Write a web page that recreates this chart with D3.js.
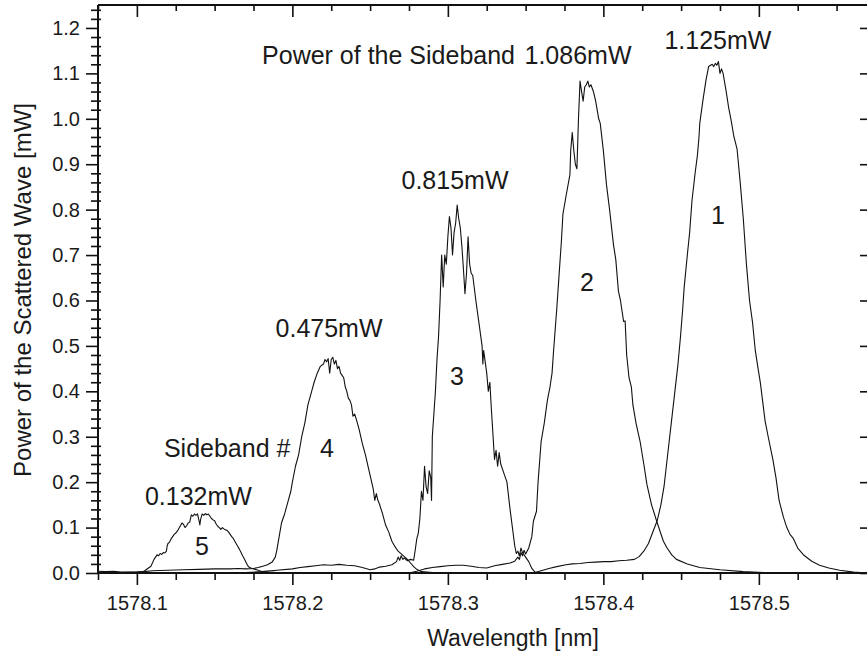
<!DOCTYPE html>
<html><head><meta charset="utf-8">
<script src="https://cdn.jsdelivr.net/npm/d3@7"></script>
<style>
body{margin:0;background:#fff}
text{font-family:"Liberation Sans",Arial,sans-serif;fill:#1a1a1a}
</style>
</head><body>
<svg id="c" width="867" height="655"></svg>
<script>
// ---- data: [wavelength nm, power mW] ----
const sideband5 = [[1578.075,0.004],[1578.08,0.003],[1578.085,0.004],[1578.09,0.002],[1578.095,0.002],[1578.1,0.002],[1578.104,0.003],[1578.1055,0.006],[1578.107,0.01],[1578.109,0.015],[1578.110,0.022],[1578.111,0.03],[1578.112,0.035],[1578.113,0.040],[1578.114,0.038],[1578.115,0.043],[1578.116,0.041],[1578.117,0.045],[1578.118,0.044],[1578.119,0.048],[1578.1195,0.06],[1578.12,0.065],[1578.121,0.068],[1578.122,0.075],[1578.123,0.08],[1578.124,0.085],[1578.125,0.088],[1578.126,0.092],[1578.127,0.098],[1578.128,0.104],[1578.129,0.11],[1578.130,0.107],[1578.131,0.1],[1578.132,0.104],[1578.133,0.11],[1578.134,0.112],[1578.135,0.128],[1578.136,0.125],[1578.137,0.13],[1578.138,0.127],[1578.139,0.13],[1578.140,0.115],[1578.1405,0.106],[1578.141,0.118],[1578.142,0.13],[1578.143,0.127],[1578.144,0.131],[1578.145,0.128],[1578.146,0.13],[1578.147,0.125],[1578.148,0.12],[1578.149,0.117],[1578.150,0.115],[1578.151,0.108],[1578.152,0.103],[1578.153,0.1],[1578.154,0.096],[1578.155,0.1],[1578.156,0.097],[1578.157,0.095],[1578.158,0.094],[1578.159,0.09],[1578.160,0.085],[1578.161,0.08],[1578.162,0.076],[1578.163,0.07],[1578.164,0.064],[1578.165,0.058],[1578.166,0.052],[1578.167,0.045],[1578.168,0.038],[1578.169,0.032],[1578.170,0.025],[1578.171,0.018],[1578.172,0.013],[1578.174,0.01],[1578.177,0.007],[1578.18,0.004],[1578.185,0.002],[1578.19,0.001],[1578.2,0.0],[1578.3,0.0],[1578.57,0.0]];

const sideband4 = [[1578.075,0.001],[1578.09,0.001],[1578.1,0.002],[1578.105,0.003],[1578.11,0.005],[1578.12,0.006],[1578.13,0.007],[1578.14,0.008],[1578.15,0.009],[1578.16,0.009],[1578.165,0.01],[1578.17,0.009],[1578.175,0.01],[1578.178,0.012],[1578.181,0.015],[1578.184,0.018],[1578.187,0.024],[1578.189,0.035],[1578.19,0.05],[1578.191,0.07],[1578.192,0.09],[1578.193,0.11],[1578.195,0.13],[1578.197,0.155],[1578.199,0.18],[1578.2,0.2],[1578.202,0.235],[1578.204,0.26],[1578.206,0.3],[1578.208,0.33],[1578.21,0.37],[1578.212,0.395],[1578.214,0.42],[1578.216,0.44],[1578.218,0.455],[1578.22,0.46],[1578.221,0.47],[1578.222,0.465],[1578.223,0.472],[1578.224,0.44],[1578.225,0.47],[1578.226,0.475],[1578.227,0.46],[1578.228,0.468],[1578.229,0.45],[1578.23,0.455],[1578.231,0.44],[1578.232,0.435],[1578.233,0.43],[1578.234,0.41],[1578.235,0.4],[1578.236,0.385],[1578.237,0.38],[1578.238,0.37],[1578.239,0.345],[1578.24,0.35],[1578.241,0.34],[1578.243,0.315],[1578.245,0.285],[1578.247,0.26],[1578.249,0.23],[1578.251,0.2],[1578.252,0.185],[1578.253,0.16],[1578.254,0.175],[1578.255,0.16],[1578.256,0.152],[1578.258,0.13],[1578.26,0.105],[1578.262,0.09],[1578.264,0.07],[1578.266,0.058],[1578.268,0.048],[1578.27,0.042],[1578.272,0.036],[1578.274,0.03],[1578.276,0.022],[1578.278,0.014],[1578.28,0.008],[1578.283,0.003],[1578.29,0.001],[1578.57,0.0]];

const sideband3 = [[1578.075,0.0],[1578.17,0.001],[1578.18,0.003],[1578.19,0.006],[1578.2,0.009],[1578.205,0.012],[1578.21,0.014],[1578.215,0.016],[1578.22,0.018],[1578.225,0.017],[1578.23,0.019],[1578.235,0.017],[1578.24,0.016],[1578.245,0.012],[1578.25,0.007],[1578.253,0.009],[1578.256,0.013],[1578.26,0.015],[1578.264,0.018],[1578.267,0.025],[1578.268,0.035],[1578.269,0.028],[1578.27,0.038],[1578.271,0.03],[1578.272,0.033],[1578.274,0.027],[1578.276,0.03],[1578.278,0.028],[1578.279,0.05],[1578.28,0.075],[1578.281,0.088],[1578.282,0.12],[1578.283,0.18],[1578.284,0.16],[1578.285,0.235],[1578.286,0.19],[1578.287,0.175],[1578.288,0.225],[1578.289,0.21],[1578.2895,0.16],[1578.29,0.3],[1578.291,0.35],[1578.292,0.4],[1578.293,0.47],[1578.294,0.52],[1578.295,0.6],[1578.296,0.7],[1578.297,0.63],[1578.298,0.7],[1578.299,0.68],[1578.3,0.74],[1578.301,0.785],[1578.302,0.76],[1578.303,0.7],[1578.304,0.75],[1578.305,0.77],[1578.306,0.81],[1578.307,0.78],[1578.308,0.76],[1578.309,0.72],[1578.31,0.67],[1578.311,0.615],[1578.312,0.66],[1578.313,0.74],[1578.314,0.68],[1578.315,0.66],[1578.316,0.655],[1578.318,0.6],[1578.32,0.55],[1578.322,0.5],[1578.3225,0.46],[1578.323,0.49],[1578.325,0.44],[1578.326,0.4],[1578.327,0.42],[1578.328,0.36],[1578.33,0.25],[1578.331,0.27],[1578.332,0.235],[1578.333,0.265],[1578.334,0.24],[1578.336,0.22],[1578.338,0.2],[1578.34,0.14],[1578.342,0.087],[1578.343,0.06],[1578.344,0.043],[1578.345,0.048],[1578.346,0.038],[1578.347,0.055],[1578.348,0.045],[1578.35,0.035],[1578.352,0.025],[1578.354,0.01],[1578.356,0.002],[1578.36,0.0],[1578.57,0.0]];

const sideband2 = [[1578.075,0.0],[1578.275,0.0],[1578.28,0.004],[1578.285,0.009],[1578.29,0.012],[1578.295,0.014],[1578.3,0.016],[1578.305,0.017],[1578.31,0.017],[1578.315,0.015],[1578.32,0.012],[1578.325,0.011],[1578.33,0.016],[1578.335,0.019],[1578.34,0.022],[1578.343,0.026],[1578.345,0.035],[1578.346,0.03],[1578.347,0.045],[1578.348,0.038],[1578.349,0.05],[1578.35,0.042],[1578.352,0.055],[1578.354,0.08],[1578.355,0.114],[1578.357,0.136],[1578.358,0.2],[1578.36,0.29],[1578.362,0.33],[1578.364,0.38],[1578.3657,0.41],[1578.367,0.44],[1578.368,0.49],[1578.37,0.58],[1578.372,0.68],[1578.373,0.73],[1578.374,0.79],[1578.376,0.83],[1578.3785,0.877],[1578.379,0.93],[1578.38,0.97],[1578.381,0.93],[1578.382,0.9],[1578.383,0.89],[1578.384,1.0],[1578.385,1.083],[1578.386,1.06],[1578.387,1.039],[1578.388,1.07],[1578.389,1.075],[1578.39,1.083],[1578.391,1.07],[1578.392,1.075],[1578.3936,1.06],[1578.395,1.04],[1578.397,1.0],[1578.398,0.99],[1578.4,0.93],[1578.402,0.855],[1578.404,0.8],[1578.4065,0.723],[1578.408,0.69],[1578.4097,0.62],[1578.411,0.6],[1578.413,0.554],[1578.414,0.555],[1578.415,0.48],[1578.4165,0.43],[1578.418,0.41],[1578.419,0.37],[1578.421,0.33],[1578.4236,0.29],[1578.426,0.24],[1578.428,0.195],[1578.431,0.15],[1578.4343,0.114],[1578.4386,0.07],[1578.441,0.055],[1578.444,0.04],[1578.447,0.03],[1578.454,0.02],[1578.462,0.012],[1578.475,0.007],[1578.49,0.003],[1578.51,0.0],[1578.57,0.0]];

const sideband1 = [[1578.075,0.0],[1578.355,0.0],[1578.36,0.005],[1578.365,0.01],[1578.37,0.014],[1578.376,0.018],[1578.38,0.02],[1578.385,0.021],[1578.39,0.023],[1578.395,0.024],[1578.4,0.025],[1578.405,0.025],[1578.41,0.027],[1578.415,0.028],[1578.42,0.03],[1578.423,0.036],[1578.426,0.048],[1578.429,0.065],[1578.432,0.092],[1578.4346,0.115],[1578.437,0.15],[1578.439,0.19],[1578.441,0.25],[1578.444,0.34],[1578.446,0.4],[1578.448,0.46],[1578.4496,0.52],[1578.451,0.58],[1578.452,0.63],[1578.454,0.7],[1578.4555,0.75],[1578.457,0.82],[1578.459,0.88],[1578.4605,0.92],[1578.4615,0.96],[1578.462,0.99],[1578.464,1.04],[1578.466,1.085],[1578.4677,1.115],[1578.469,1.118],[1578.47,1.12],[1578.471,1.115],[1578.472,1.122],[1578.473,1.118],[1578.474,1.126],[1578.475,1.1],[1578.476,1.11],[1578.477,1.1],[1578.479,1.06],[1578.4806,1.024],[1578.482,1.0],[1578.484,0.96],[1578.486,0.933],[1578.488,0.86],[1578.49,0.78],[1578.492,0.68],[1578.494,0.6],[1578.496,0.55],[1578.4977,0.49],[1578.4995,0.45],[1578.501,0.418],[1578.504,0.335],[1578.506,0.3],[1578.509,0.25],[1578.511,0.21],[1578.513,0.16],[1578.5158,0.123],[1578.518,0.1],[1578.52,0.085],[1578.522,0.077],[1578.525,0.055],[1578.529,0.039],[1578.534,0.026],[1578.539,0.017],[1578.545,0.011],[1578.552,0.006],[1578.561,0.002],[1578.57,0.0]];

const seriesList = [sideband5, sideband4, sideband3, sideband2, sideband1];

// ---- axes ticks ----
const xMajorTicks = [1578.1,1578.2,1578.3,1578.4,1578.5];
const xMinorTicks = [1578.075,1578.125,1578.15,1578.175,1578.225,1578.25,1578.275,1578.325,1578.35,1578.375,1578.425,1578.45,1578.475,1578.525,1578.55];
const xTickLabels = ["1578.1","1578.2","1578.3","1578.4","1578.5"];
const yMajorTicks = [0,0.1,0.2,0.3,0.4,0.5,0.6,0.7,0.8,0.9,1.0,1.1,1.2];
const yTickLabels = ["0.0","0.1","0.2","0.3","0.4","0.5","0.6","0.7","0.8","0.9","1.0","1.1","1.2"];
const yMinorTicks = [0.02,0.04,0.06,0.08,0.12,0.14,0.16,0.18,0.22,0.24,0.26,0.28,0.32,0.34,0.36,0.38,0.42,0.44,0.46,0.48,0.52,0.54,0.56,0.58,0.62,0.64,0.66,0.68,0.72,0.74,0.76,0.78,0.82,0.84,0.86,0.88,0.92,0.94,0.96,0.98,1.02,1.04,1.06,1.08,1.12,1.14,1.16,1.18,1.22,1.24];

// ---- annotations: [text, wavelength, power, anchor] ----
const annotations = [
  ["Power of the Sideband",1578.1805,1.1207,"start"],
  ["1.086mW",1578.3837,1.1207,"middle"],
  ["1.125mW",1578.4737,1.1537,"middle"],
  ["0.815mW",1578.3046,0.8454,"middle"],
  ["0.475mW",1578.2236,0.5196,"middle"],
  ["Sideband #",1578.1174,0.2554,"start"],
  ["4",1578.2223,0.2554,"middle"],
  ["0.132mW",1578.1052,0.1497,"start"],
  ["5",1578.1419,0.0396,"middle"],
  ["3",1578.3059,0.4139,"middle"],
  ["2",1578.3895,0.6209,"middle"],
  ["1",1578.4737,0.7684,"middle"]
];

const svg = d3.select("#c");
const x = d3.scaleLinear().domain([1578.075,1578.57]).range([98,867.7]);
const y = d3.scaleLinear().domain([0,1.25]).range([573,5.25]);
const L=98,R=867,T=5,B=573;

svg.append("defs").append("clipPath").attr("id","clip")
  .append("rect").attr("x",L).attr("y",T).attr("width",R-L).attr("height",B-T+1);

// curves
const line = d3.line().x(d=>x(d[0])).y(d=>y(d[1]));
svg.append("g").attr("clip-path","url(#clip)")
  .selectAll("path").data(seriesList).join("path")
  .attr("d",line).attr("fill","none").attr("stroke","#111").attr("stroke-width",1.1)
  .attr("stroke-linejoin","round");

const axStyle = g => { g.selectAll("line").attr("stroke","#111").attr("stroke-width",1.6); g.select(".domain").remove(); };

// bottom axis
svg.append("g").attr("transform",`translate(0,${B})`)
  .call(d3.axisBottom(x).tickValues(xMajorTicks).tickSize(12).tickFormat((d,i)=>xTickLabels[i]))
  .call(axStyle)
  .call(g=>g.selectAll("text").attr("font-size",20).attr("dy",null).attr("y",37)
        .style("font-family","'Liberation Sans',Arial,sans-serif").attr("fill","#1a1a1a"));
svg.append("g").attr("transform",`translate(0,${B})`)
  .call(d3.axisBottom(x).tickValues(xMinorTicks).tickSize(7).tickFormat(""))
  .call(axStyle);
// top axis (ticks inward)
svg.append("g").attr("transform",`translate(0,${T})`)
  .call(d3.axisBottom(x).tickValues(xMajorTicks).tickSize(12).tickFormat(""))
  .call(axStyle);
svg.append("g").attr("transform",`translate(0,${T})`)
  .call(d3.axisBottom(x).tickValues(xMinorTicks).tickSize(6).tickFormat(""))
  .call(axStyle);
// left axis
svg.append("g").attr("transform",`translate(${L},0)`)
  .call(d3.axisLeft(y).tickValues(yMajorTicks).tickSize(12).tickFormat((d,i)=>yTickLabels[i]))
  .call(axStyle)
  .call(g=>g.selectAll("text").attr("font-size",20).attr("x",-18)
        .style("font-family","'Liberation Sans',Arial,sans-serif").attr("fill","#1a1a1a"));
svg.append("g").attr("transform",`translate(${L+3},0)`)
  .call(d3.axisLeft(y).tickValues(yMinorTicks).tickSize(10).tickFormat(""))
  .call(axStyle);
// right axis ticks (inward)
svg.append("g").attr("transform",`translate(${R},0)`)
  .call(d3.axisLeft(y).tickValues(yMajorTicks).tickSize(7).tickFormat(""))
  .call(axStyle);

// frame lines
svg.append("line").attr("x1",L).attr("x2",L).attr("y1",T).attr("y2",B+1).attr("stroke","#111").attr("stroke-width",2);
svg.append("line").attr("x1",L).attr("x2",R).attr("y1",B).attr("y2",B).attr("stroke","#111").attr("stroke-width",2);
svg.append("line").attr("x1",L).attr("x2",R).attr("y1",T).attr("y2",T).attr("stroke","#111").attr("stroke-width",2);

// titles
svg.append("text").attr("x",513).attr("y",646).attr("text-anchor","middle").attr("font-size",23).text("Wavelength [nm]");
svg.append("text").attr("transform","translate(31,290) rotate(-90)").attr("text-anchor","middle").attr("font-size",24)
  .text("Power of the Scattered Wave [mW]");

// annotations
svg.append("g").selectAll("text").data(annotations).join("text")
  .attr("x",d=>x(d[1])).attr("y",d=>y(d[2])).attr("text-anchor",d=>d[3])
  .attr("font-size",25).text(d=>d[0]);
</script>
</body></html>
